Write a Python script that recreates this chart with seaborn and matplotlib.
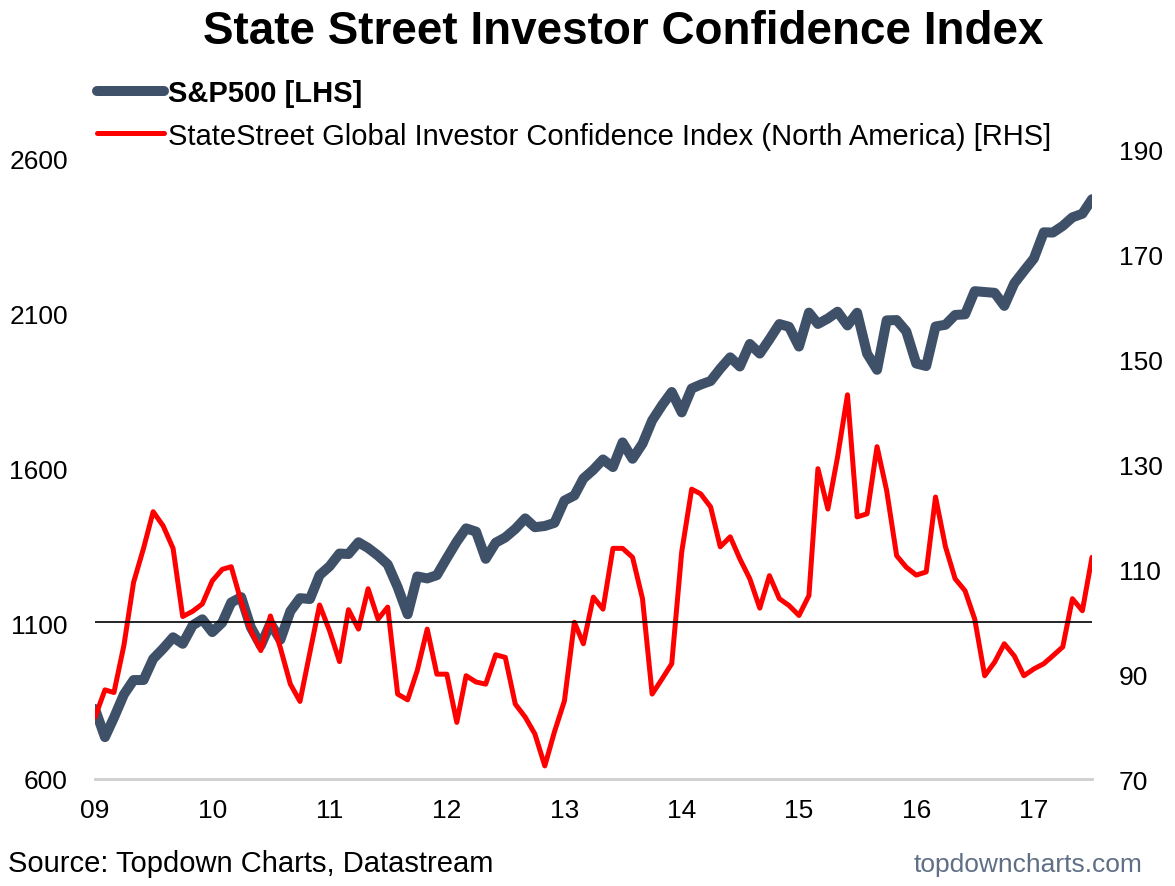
import pandas as pd
import matplotlib
matplotlib.use("Agg")
import matplotlib.pyplot as plt
import seaborn as sns

# monthly data, Jan 2009 - Jul 2017
months = pd.date_range("2009-01-01", "2017-07-01", freq="MS")

spx = [825.9, 735.1, 797.9, 872.8, 919.1, 919.3, 987.5, 1020.6, 1057.1, 1036.2, 1095.6, 1115.1,
       1073.9, 1104.5, 1169.4, 1186.7, 1089.4, 1030.7, 1101.6, 1049.3, 1141.2, 1183.3, 1180.6, 1257.6,
       1286.1, 1327.2, 1325.8, 1363.6, 1345.2, 1320.6, 1292.3, 1218.9, 1131.4, 1253.3, 1247.0, 1257.6,
       1312.4, 1365.7, 1408.5, 1397.9, 1310.3, 1362.2, 1379.3, 1406.6, 1440.7, 1412.2, 1416.2, 1426.2,
       1498.1, 1514.7, 1569.2, 1597.6, 1630.7, 1606.3, 1685.7, 1633.0, 1681.6, 1756.5, 1805.8, 1848.4,
       1782.6, 1859.5, 1872.3, 1883.9, 1923.6, 1960.2, 1930.7, 2003.4, 1972.3, 2018.1, 2067.6, 2058.9,
       1995.0, 2104.5, 2067.9, 2085.5, 2107.4, 2063.1, 2104.0, 1972.2, 1920.0, 2079.4, 2080.4, 2043.9,
       1940.2, 1932.2, 2059.7, 2065.3, 2096.9, 2098.9, 2173.6, 2170.9, 2168.3, 2126.2, 2198.8, 2238.8,
       2278.9, 2363.6, 2362.7, 2384.2, 2411.8, 2423.4, 2470.3]

ssici = [81.8, 87.0, 86.5, 95.5, 107.5, 114.0, 121.0, 118.3, 114.0, 101.0, 102.0, 103.4,
         107.8, 110.0, 110.5, 103.8, 98.3, 94.5, 101.1, 95.0, 88.1, 84.8, 94.2, 103.2,
         98.3, 92.4, 102.3, 98.6, 106.3, 100.5, 102.8, 86.2, 85.1, 90.7, 98.6, 90.0,
         90.0, 80.8, 89.7, 88.5, 88.1, 93.7, 93.2, 84.3, 81.8, 78.6, 72.5, 79.0,
         84.9, 99.9, 95.8, 104.7, 102.4, 114.0, 114.0, 112.3, 104.4, 86.2, 89.1, 92.0,
         113.3, 125.3, 124.4, 121.9, 114.3, 116.2, 112.0, 108.2, 102.6, 108.8, 104.4, 103.1,
         101.2, 105.0, 129.2, 121.5, 131.4, 143.3, 120.0, 120.6, 133.4, 125.0, 112.6, 110.4,
         108.9, 109.5, 123.8, 114.3, 108.2, 105.9, 100.5, 89.7, 92.3, 95.8, 93.5, 89.7,
         91.0, 92.0, 93.5, 95.2, 104.4, 102.1, 112.3]

left_ticks = [600, 1100, 1600, 2100, 2600]
right_ticks = [70, 90, 110, 130, 150, 170, 190]
year_labels = ["09", "10", "11", "12", "13", "14", "15", "16", "17"]

df = pd.DataFrame({"date": months, "spx": spx, "ssici": ssici})

sns.set_style("white")
plt.rcParams["font.family"] = ["Liberation Sans", "DejaVu Sans"]
plt.rcParams["text.color"] = "black"

fig = plt.figure(figsize=(11.75, 8.87), dpi=100)
ax = fig.add_axes([95 / 1175, 107 / 887, 997 / 1175, 629 / 887])
ax2 = ax.twinx()

sns.lineplot(data=df, x="date", y="spx", ax=ax, color="#3f5069", linewidth=7.2,
             label="S&P500 [LHS]", legend=False, solid_capstyle="round", solid_joinstyle="round")
sns.lineplot(data=df, x="date", y="ssici", ax=ax2, color="#ff0000", linewidth=3.6,
             label="StateStreet Global Investor Confidence Index (North America) [RHS]",
             legend=False, solid_joinstyle="round")
ax2.axhline(100, color="black", linewidth=1.2, zorder=5)

# axes ranges
ax.set_xlim(months[0], months[-1])
ax.set_ylim(600, 600 + 629 / 0.31)
ax2.set_ylim(70, 190)
ax.set_yticks(left_ticks)
ax2.set_yticks(right_ticks)

year_pos = [pd.Timestamp(f"20{y}-01-01") for y in year_labels]
ax.set_xticks(year_pos)
ax.set_xticklabels(year_labels)

for a in (ax, ax2):
    a.set_xlabel("")
    a.set_ylabel("")
    a.grid(False)
    for s in ("top", "left", "right"):
        a.spines[s].set_visible(False)
    a.spines["bottom"].set_color("#d0d0d0")
    a.spines["bottom"].set_linewidth(1.8)

ax.tick_params(axis="y", length=0, labelsize=19, pad=19.5, colors="black")
ax2.tick_params(axis="y", length=0, labelsize=19, pad=19.5, colors="black")
ax.tick_params(axis="x", direction="out", length=4.5, width=1.3, color="#d0d0d0",
               labelsize=19, pad=9, labelcolor="black")

# legend
h1, l1 = ax.get_legend_handles_labels()
h2, l2 = ax2.get_legend_handles_labels()
leg = fig.legend(h1 + h2, l1 + l2, loc="upper left", bbox_to_anchor=(97 / 1175, 1 - 80 / 887),
                 frameon=False, fontsize=21, handlelength=2.3, handletextpad=0.12,
                 borderpad=0, borderaxespad=0, labelspacing=0.5)
for t in leg.get_texts():
    t.set_color("black")
leg.get_texts()[0].set_fontweight("bold")

fig.text(623 / 1175, 1 - 44 / 887, "State Street Investor Confidence Index",
         ha="center", va="baseline", fontsize=33, fontweight="bold", color="black")
fig.text(8 / 1175, 1 - 872 / 887, "Source: Topdown Charts, Datastream",
         ha="left", va="baseline", fontsize=21, color="black")
fig.text(1143 / 1175, 1 - 872 / 887, "topdowncharts.com",
         ha="right", va="baseline", fontsize=19, color="#5f6f85")

fig.savefig("out.png", dpi=100)
